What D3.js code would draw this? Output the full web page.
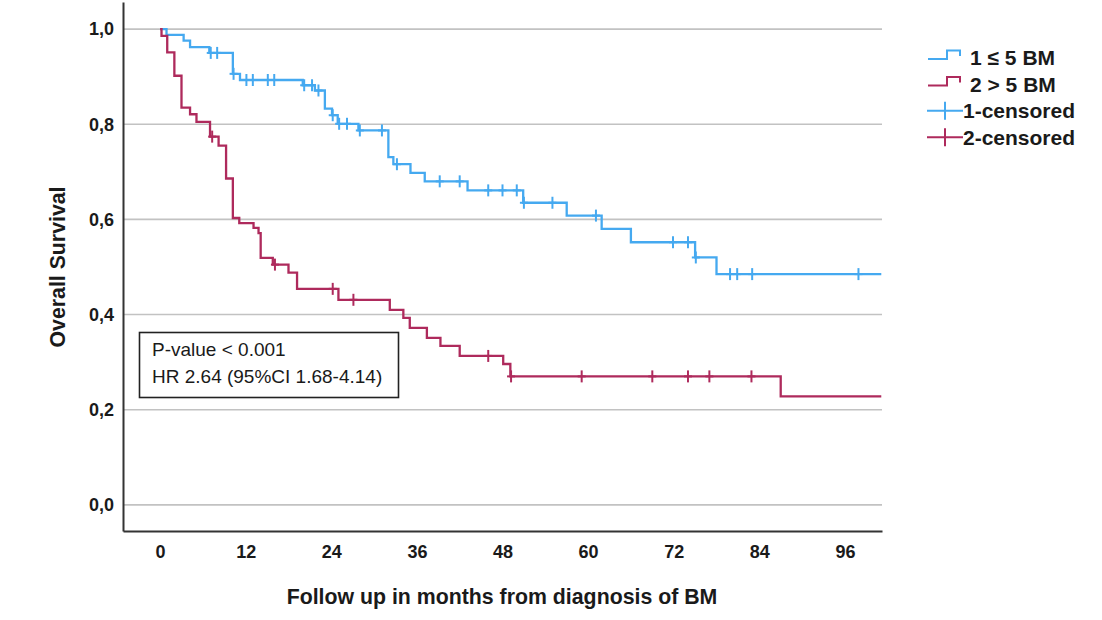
<!DOCTYPE html>
<html lang="en">
	<head>
		<meta charset="utf-8">
		<title>Overall survival by number of BM</title>
		<script src="https://d3js.org/d3.v7.min.js"></script>
		<style type="text/css">
			body { margin: 0; background: white; }
			text { font-family: "Liberation Sans", Arial, sans-serif; fill: #1a1a1a; }
			.tick text { font-size: 18px; font-weight: bold; }
			.title { font-size: 21.3px; font-weight: bold; }
			.legend text { font-size: 21px; font-weight: bold; }
			.note { font-size: 19px; font-weight: normal; }
		</style>
	</head>
	<body>
		<svg id="km" width="1102" height="620"></svg>

		<script type="text/javascript">

			// group 1: 1 <= 5 BM  (event times in months, survival after the step)
			var g1Times = [0.9, 3.3, 4.2, 6.9, 10.2, 11.2, 20.0, 21.7, 23.1, 24.1, 24.9, 27.8, 32.0, 32.7, 35.1, 37.1, 43.1, 50.9, 57.0, 61.9, 66.0, 75.0, 78.0];
			var g1Surv  = [0.988, 0.976, 0.962, 0.950, 0.906, 0.893, 0.882, 0.871, 0.833, 0.819, 0.801, 0.787, 0.731, 0.716, 0.698, 0.680, 0.661, 0.635, 0.608, 0.580, 0.552, 0.520, 0.485];
			var g1Censored = [7.1, 8.0, 10.3, 12.1, 13.0, 15.1, 16.0, 20.2, 21.3, 22.2, 24.2, 25.1, 26.2, 28.0, 31.1, 33.2, 39.2, 42.0, 46.0, 48.0, 50.0, 51.0, 55.0, 61.1, 71.9, 74.0, 75.1, 79.9, 80.9, 83.0, 97.9];

			// group 2: > 5 BM
			var g2Times = [0.2, 1.0, 2.0, 3.0, 4.2, 5.1, 7.0, 8.2, 9.25, 10.2, 11.1, 13.1, 13.8, 14.1, 15.8, 18.0, 19.2, 25.0, 32.2, 34.1, 35.0, 37.4, 39.3, 42.0, 48.1, 49.1, 87.0];
			var g2Surv  = [0.986, 0.951, 0.902, 0.835, 0.821, 0.805, 0.774, 0.755, 0.686, 0.603, 0.592, 0.582, 0.571, 0.519, 0.505, 0.488, 0.454, 0.431, 0.410, 0.393, 0.372, 0.351, 0.334, 0.313, 0.296, 0.270, 0.228];
			var g2Censored = [7.3, 16.1, 24.2, 27.1, 46.0, 49.2, 59.1, 69.0, 74.0, 77.0, 82.9];

			var followEnd = 101.1;
			var xTicks = [0, 12, 24, 36, 48, 60, 72, 84, 96];
			var yTicks = [0, 0.2, 0.4, 0.6, 0.8, 1.0];

			var legendLabels = ["1 \u2264 5 BM", "2 > 5 BM", "1-censored", "2-censored"];
			var noteLines = ["P-value < 0.001", "HR 2.64 (95%CI 1.68-4.14)"];

			var blue = "#45a9f0",
				red = "#ae2a5c";

			var svg = d3.select("#km");

			var x = d3.scaleLinear().domain([-5.2, 101.2]).range([123, 882]);
			var y = d3.scaleLinear().domain([-0.055, 1.057]).range([531, 2]);

			//Gridlines
			svg.append("g")
				.selectAll("line")
				.data(yTicks)
				.enter()
				.append("line")
				.attr("x1", x.range()[0])
				.attr("x2", x.range()[1])
				.attr("y1", function(d) { return y(d); })
				.attr("y2", function(d) { return y(d); })
				.attr("stroke", "#c2c2c2")
				.attr("stroke-width", 1.6);

			//Axes
			var yAxis = d3.axisLeft(y)
						.tickValues(yTicks)
						.tickSize(0)
						.tickPadding(9)
						.tickFormat(function(d) { return d3.format(".1f")(d).replace(".", ","); });

			var xAxis = d3.axisBottom(x)
						.tickValues(xTicks)
						.tickSize(0)
						.tickPadding(14);

			var gy = svg.append("g")
						.attr("transform", "translate(" + x.range()[0] + ",0)")
						.call(yAxis);
			var gx = svg.append("g")
						.attr("transform", "translate(0," + y.range()[0] + ")")
						.call(xAxis);

			[gx, gy].forEach(function(g) {
				g.select(".domain").attr("stroke", "#333").attr("stroke-width", 2);
				g.selectAll(".tick text").attr("fill", "#1a1a1a");
				g.attr("font-family", null).attr("font-size", null);
			});

			//Step curves
			var drawGroup = function(times, surv, censored, color) {
				var pts = [[0, 1]];
				times.forEach(function(t, i) {
					pts.push([t, i === 0 ? 1 : surv[i - 1]]);
					pts.push([t, surv[i]]);
				});
				pts.push([followEnd, surv[surv.length - 1]]);

				var line = d3.line()
							.x(function(d) { return x(d[0]); })
							.y(function(d) { return y(d[1]); });

				svg.append("path")
					.attr("d", line(pts))
					.attr("fill", "none")
					.attr("stroke", color)
					.attr("stroke-width", 2.3);

				var survAt = function(t) {
					var s = 1;
					times.forEach(function(ti, i) { if (ti <= t) s = surv[i]; });
					return s;
				};

				var marks = svg.append("g")
							.selectAll("g")
							.data(censored)
							.enter()
							.append("g")
							.attr("transform", function(d) {
								return "translate(" + x(d) + "," + y(survAt(d)) + ")";
							});
				marks.append("line")
					.attr("y1", -6).attr("y2", 6)
					.attr("stroke", color).attr("stroke-width", 2);
				marks.append("line")
					.attr("x1", -4).attr("x2", 4)
					.attr("stroke", color).attr("stroke-width", 2);
			};

			drawGroup(g1Times, g1Surv, g1Censored, blue);
			drawGroup(g2Times, g2Surv, g2Censored, red);

			//Axis titles
			svg.append("text")
				.attr("class", "title")
				.attr("x", 502)
				.attr("y", 604)
				.attr("text-anchor", "middle")
				.text("Follow up in months from diagnosis of BM");

			svg.append("text")
				.attr("class", "title")
				.attr("transform", "translate(65,267) rotate(-90)")
				.attr("text-anchor", "middle")
				.text("Overall Survival");

			//Note box
			svg.append("rect")
				.attr("x", 139.5).attr("y", 332.5)
				.attr("width", 259).attr("height", 65)
				.attr("fill", "white")
				.attr("stroke", "#222")
				.attr("stroke-width", 1.6);

			svg.selectAll("text.note")
				.data(noteLines)
				.enter()
				.append("text")
				.attr("class", "note")
				.attr("x", 152)
				.attr("y", function(d, i) { return 356 + i * 27; })
				.text(function(d) { return d; });

			//Legend
			var legend = svg.append("g").attr("class", "legend");
			var rows = legend.selectAll("g")
						.data(legendLabels)
						.enter()
						.append("g")
						.attr("transform", function(d, i) { return "translate(928," + (57.5 + i * 26.6) + ")"; });

			rows.each(function(d, i) {
				var r = d3.select(this);
				var c = (i % 2 === 0) ? blue : red;
				if (i < 2) {
					r.append("path")
						.attr("d", "M0,1.5 H19 V-7 H32 V-1.5")
						.attr("fill", "none")
						.attr("stroke", c)
						.attr("stroke-width", 2);
					r.append("text").attr("x", 42).attr("dy", "0.36em").text(d);
				} else {
					r.append("path")
						.attr("d", "M-1,0 H35 M17,-9 V9")
						.attr("fill", "none")
						.attr("stroke", c)
						.attr("stroke-width", 2);
					r.append("text").attr("x", 35).attr("dy", "0.36em").text(d);
				}
			});

		</script>
	</body>
</html>
